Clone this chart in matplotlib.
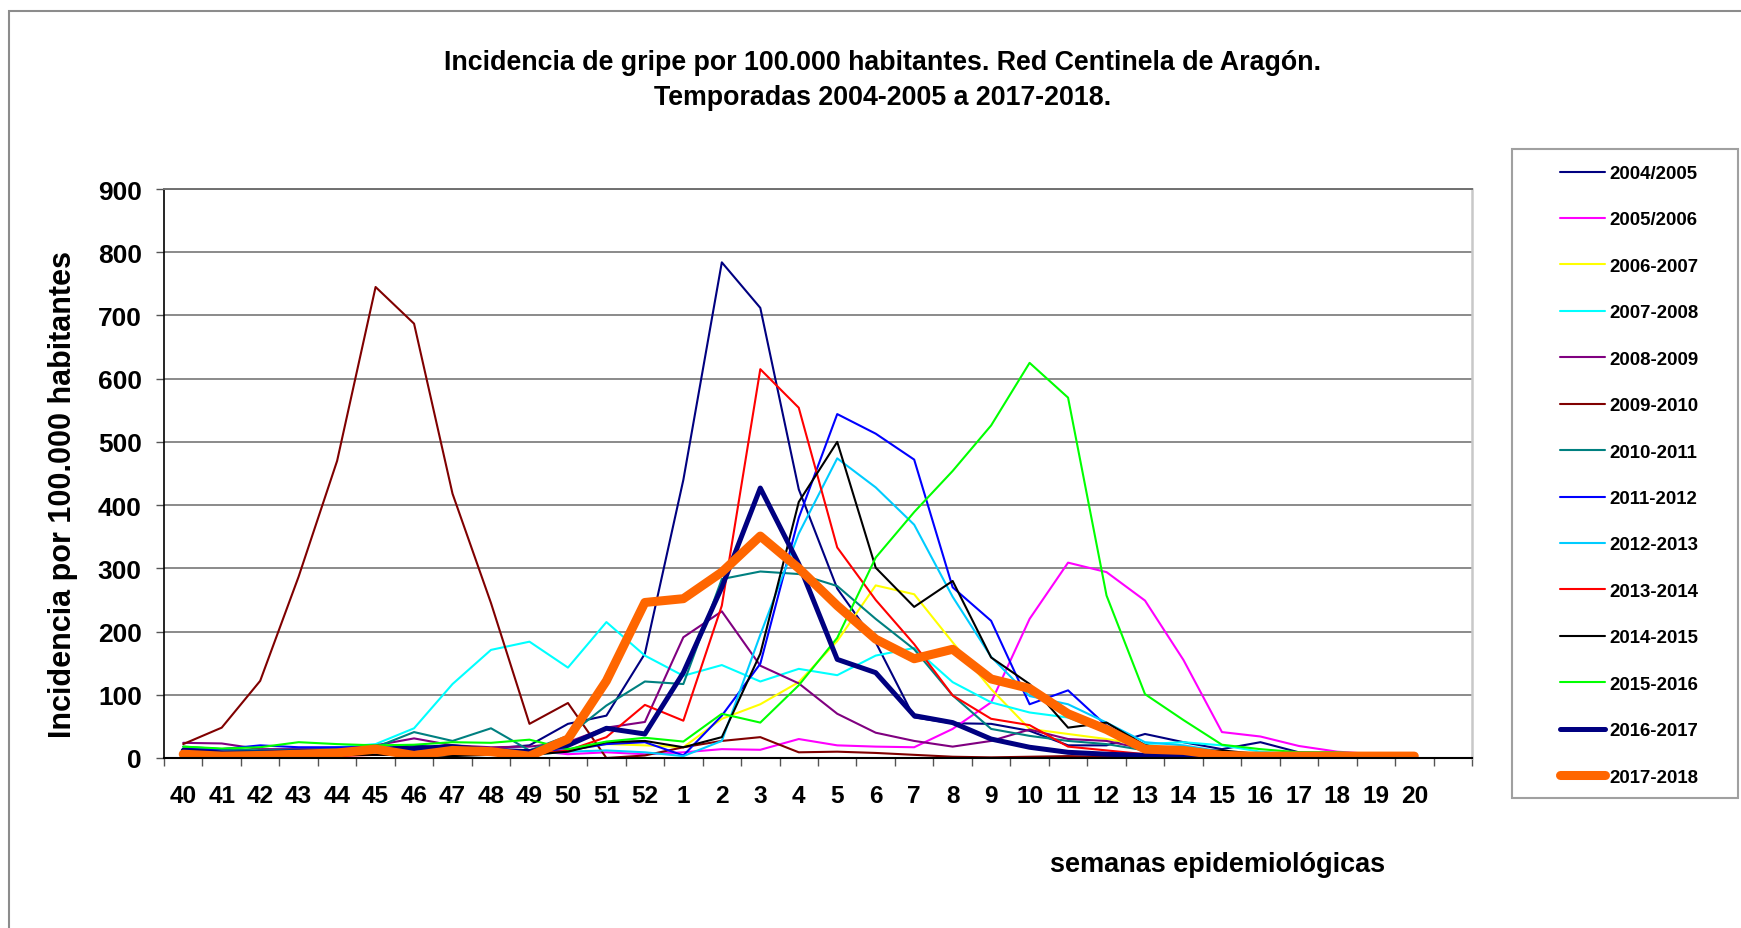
import numpy as np
import matplotlib
matplotlib.use("Agg")
import matplotlib.pyplot as plt
from matplotlib import font_manager
from matplotlib.patches import Rectangle

# ---------------- data ----------------
weeks = [str(w) for w in range(40, 53)] + [str(w) for w in range(1, 21)]

s2004_2005 = [15, 10, 10, 12, 12, 15, 20, 15, 15, 20, 54, 67, 165, 440, 784, 712, 425, 268, 183, 64, 55, 54, 43, 20, 20, 38, 25, 14, 25, 9, 8, 3, 3]
s2005_2006 = [5, 5, 5, 5, 5, 5, 8, 10, 12, 12, 6, 9, 6, 9, 14, 13, 30, 20, 18, 17, 46, 88, 220, 309, 294, 249, 155, 41, 34, 19, 10, 6, 5]
s2006_2007 = [8, 8, 8, 8, 8, 10, 10, 10, 10, 10, 12, 22, 20, 17, 62, 85, 120, 185, 273, 259, 183, 109, 46, 38, 30, 20, 12, 8, 5, 4, 3, 2, 2]
s2007_2008 = [10, 10, 12, 14, 17, 22, 47, 117, 171, 184, 143, 215, 162, 130, 147, 121, 141, 131, 162, 174, 120, 88, 72, 64, 41, 22, 25, 20, 10, 6, 4, 3, 2]
s2008_2009 = [24, 23, 14, 14, 15, 20, 31, 20, 17, 18, 25, 48, 57, 191, 232, 146, 118, 70, 40, 27, 18, 27, 45, 30, 27, 14, 8, 5, 4, 3, 2, 2, 2]
s2009_2010 = [22, 48, 122, 287, 470, 745, 687, 418, 245, 54, 87, 0, 4, 17, 27, 33, 9, 10, 8, 5, 2, 1, 2, 3, 2, 2, 1, 1, 1, 1, 1, 1, 1]
s2010_2011 = [18, 14, 12, 13, 14, 17, 41, 27, 47, 12, 35, 83, 121, 117, 283, 295, 291, 272, 220, 172, 99, 46, 35, 27, 22, 12, 6, 4, 3, 2, 2, 1, 1]
s2011_2012 = [14, 14, 20, 17, 17, 17, 15, 14, 14, 12, 12, 22, 25, 4, 67, 149, 380, 544, 513, 472, 270, 217, 85, 107, 51, 20, 10, 6, 4, 3, 2, 2, 1]
s2012_2013 = [5, 5, 5, 5, 5, 5, 5, 5, 5, 5, 10, 12, 9, 3, 27, 195, 355, 474, 428, 369, 255, 160, 98, 85, 56, 25, 20, 10, 5, 3, 2, 2, 1]
s2013_2014 = [3, 3, 3, 3, 3, 5, 5, 5, 5, 5, 12, 33, 84, 59, 241, 615, 554, 333, 250, 180, 99, 62, 52, 18, 12, 6, 4, 3, 2, 2, 1, 1, 1]
s2014_2015 = [5, 5, 5, 5, 5, 5, 5, 3, 5, 5, 10, 25, 27, 17, 33, 165, 405, 500, 301, 239, 280, 159, 117, 48, 56, 20, 10, 12, 6, 4, 3, 2, 2]
s2015_2016 = [18, 15, 17, 25, 22, 20, 21, 25, 24, 29, 14, 26, 32, 26, 70, 56, 115, 190, 317, 389, 454, 526, 625, 570, 257, 101, 60, 21, 14, 9, 9, 6, 4]
s2016_2017 = [12, 8, 8, 10, 10, 12, 15, 18, 12, 10, 20, 47, 38, 135, 270, 427, 307, 156, 135, 67, 56, 30, 17, 9, 6, 4, 3, 2, 2, 2, 1, 1, 1]
s2017_2018 = [6, 3, 4, 6, 8, 14, 4, 12, 10, 3, 30, 122, 246, 252, 294, 351, 300, 241, 188, 157, 172, 125, 110, 70, 45, 14, 12, 4, 3, 3, 3, 3, 3]

season_names = ["2004/2005", "2005/2006", "2006-2007", "2007-2008", "2008-2009",
                "2009-2010", "2010-2011", "2011-2012", "2012-2013", "2013-2014",
                "2014-2015", "2015-2016", "2016-2017", "2017-2018"]
season_values = [s2004_2005, s2005_2006, s2006_2007, s2007_2008, s2008_2009,
                 s2009_2010, s2010_2011, s2011_2012, s2012_2013, s2013_2014,
                 s2014_2015, s2015_2016, s2016_2017, s2017_2018]
season_colors = ["#000080", "#FF00FF", "#FFFF00", "#00FFFF", "#800080",
                 "#800000", "#008080", "#0000FF", "#00CCFF", "#FF0000",
                 "#000000", "#00FF00", "#000080", "#FF6600"]
season_widths = [1.5] * 12 + [3.6, 6.5]

# ---------------- fonts ----------------
names = {f.name for f in font_manager.fontManager.ttflist}
NARROW = "Liberation Sans Narrow" in names
BASE = "Liberation Sans" if "Liberation Sans" in names else "DejaVu Sans"
NFAM = "Liberation Sans Narrow" if NARROW else BASE
k = 1.0 if NARROW else 0.80  # shrink factor if no narrow font

W, H = 1741, 929
fig = plt.figure(figsize=(W / 100, H / 100), dpi=100)
fig.patch.set_facecolor("white")

# outer frame (top and left edges visible)
fig.add_artist(Rectangle((9 / W, -0.05), 1.1, 1 - 12 / H + 0.05, transform=fig.transFigure,
                         fill=False, edgecolor="#8c8c8c", lw=1.5))

ax = fig.add_axes([164 / W, 1 - 759 / H, (1472 - 164) / W, (759 - 190) / H])

x = np.arange(len(weeks))
for name, vals, col, lw in zip(season_names, season_values, season_colors, season_widths):
    ax.plot(x, vals, color=col, lw=lw, label=name, solid_capstyle="round",
            solid_joinstyle="round")

ax.set_xlim(-0.5, len(weeks) + 0.5)
ax.set_ylim(0, 900)

# grid & spines
ax.yaxis.grid(True, color="#8a8a8a", lw=1.4)
ax.set_axisbelow(True)
ax.spines["left"].set_color("black")
ax.spines["bottom"].set_color("black")
ax.spines["left"].set_linewidth(1.2)
ax.spines["bottom"].set_linewidth(1.5)
ax.spines["top"].set_color("#707070")
ax.spines["top"].set_linewidth(1.4)
ax.spines["right"].set_color("#c8c8c8")
ax.spines["right"].set_linewidth(1.8)

# y ticks
ax.set_yticks(np.arange(0, 901, 100))
ax.set_yticklabels([str(v) for v in range(0, 901, 100)], fontsize=19,
                   fontweight="bold", family=BASE)
ax.tick_params(axis="y", length=6, width=1.0, color="#555555", pad=10)

# x ticks: marks at category boundaries, labels at centers
ax.set_xticks(np.arange(-0.5, len(weeks) + 1, 1))
ax.set_xticklabels([])
ax.tick_params(axis="x", which="major", length=6, width=1.0, color="#555555")
ax.set_xticks(x, minor=True)
ax.set_xticklabels(weeks, minor=True, fontsize=22 * k, fontweight="bold", family=NFAM)
ax.tick_params(axis="x", which="minor", length=0, pad=19)

# titles and labels
tsize = 23.5 if NARROW else 19.3
fig.text(883 / W, 1 - 63 / H, "Incidencia de gripe por 100.000 habitantes. Red Centinela de Aragón.",
         ha="center", va="center", fontsize=tsize, fontweight="bold", family=NFAM)
fig.text(883 / W, 1 - 98 / H, "Temporadas 2004-2005 a 2017-2018.",
         ha="center", va="center", fontsize=tsize, fontweight="bold", family=NFAM)
fig.text(63 / W, 1 - 495 / H, "Incidencia por 100.000 habitantes", rotation=90,
         ha="center", va="center", fontsize=22, fontweight="bold", family=BASE)
fig.text(1218 / W, 1 - 865 / H, "semanas epidemiológicas", ha="center", va="center",
         fontsize=23.5 if NARROW else 19.5, fontweight="bold", family=NFAM)

# legend with separate frame
fig.add_artist(Rectangle((1512 / W, 1 - 799 / H), (1738 - 1512) / W, (799 - 150) / H,
                         transform=fig.transFigure, fill=False, edgecolor="#a0a0a0", lw=1.5))
leg = fig.legend(loc="upper left", bbox_to_anchor=(1560 / W, 1 - 166 / H),
                 frameon=False, borderpad=0, borderaxespad=0,
                 prop={"family": BASE, "weight": "bold", "size": 13.4},
                 handlelength=2.4, handletextpad=0.25, labelspacing=1.58)

fig.savefig("out.png", dpi=100, facecolor="white")
